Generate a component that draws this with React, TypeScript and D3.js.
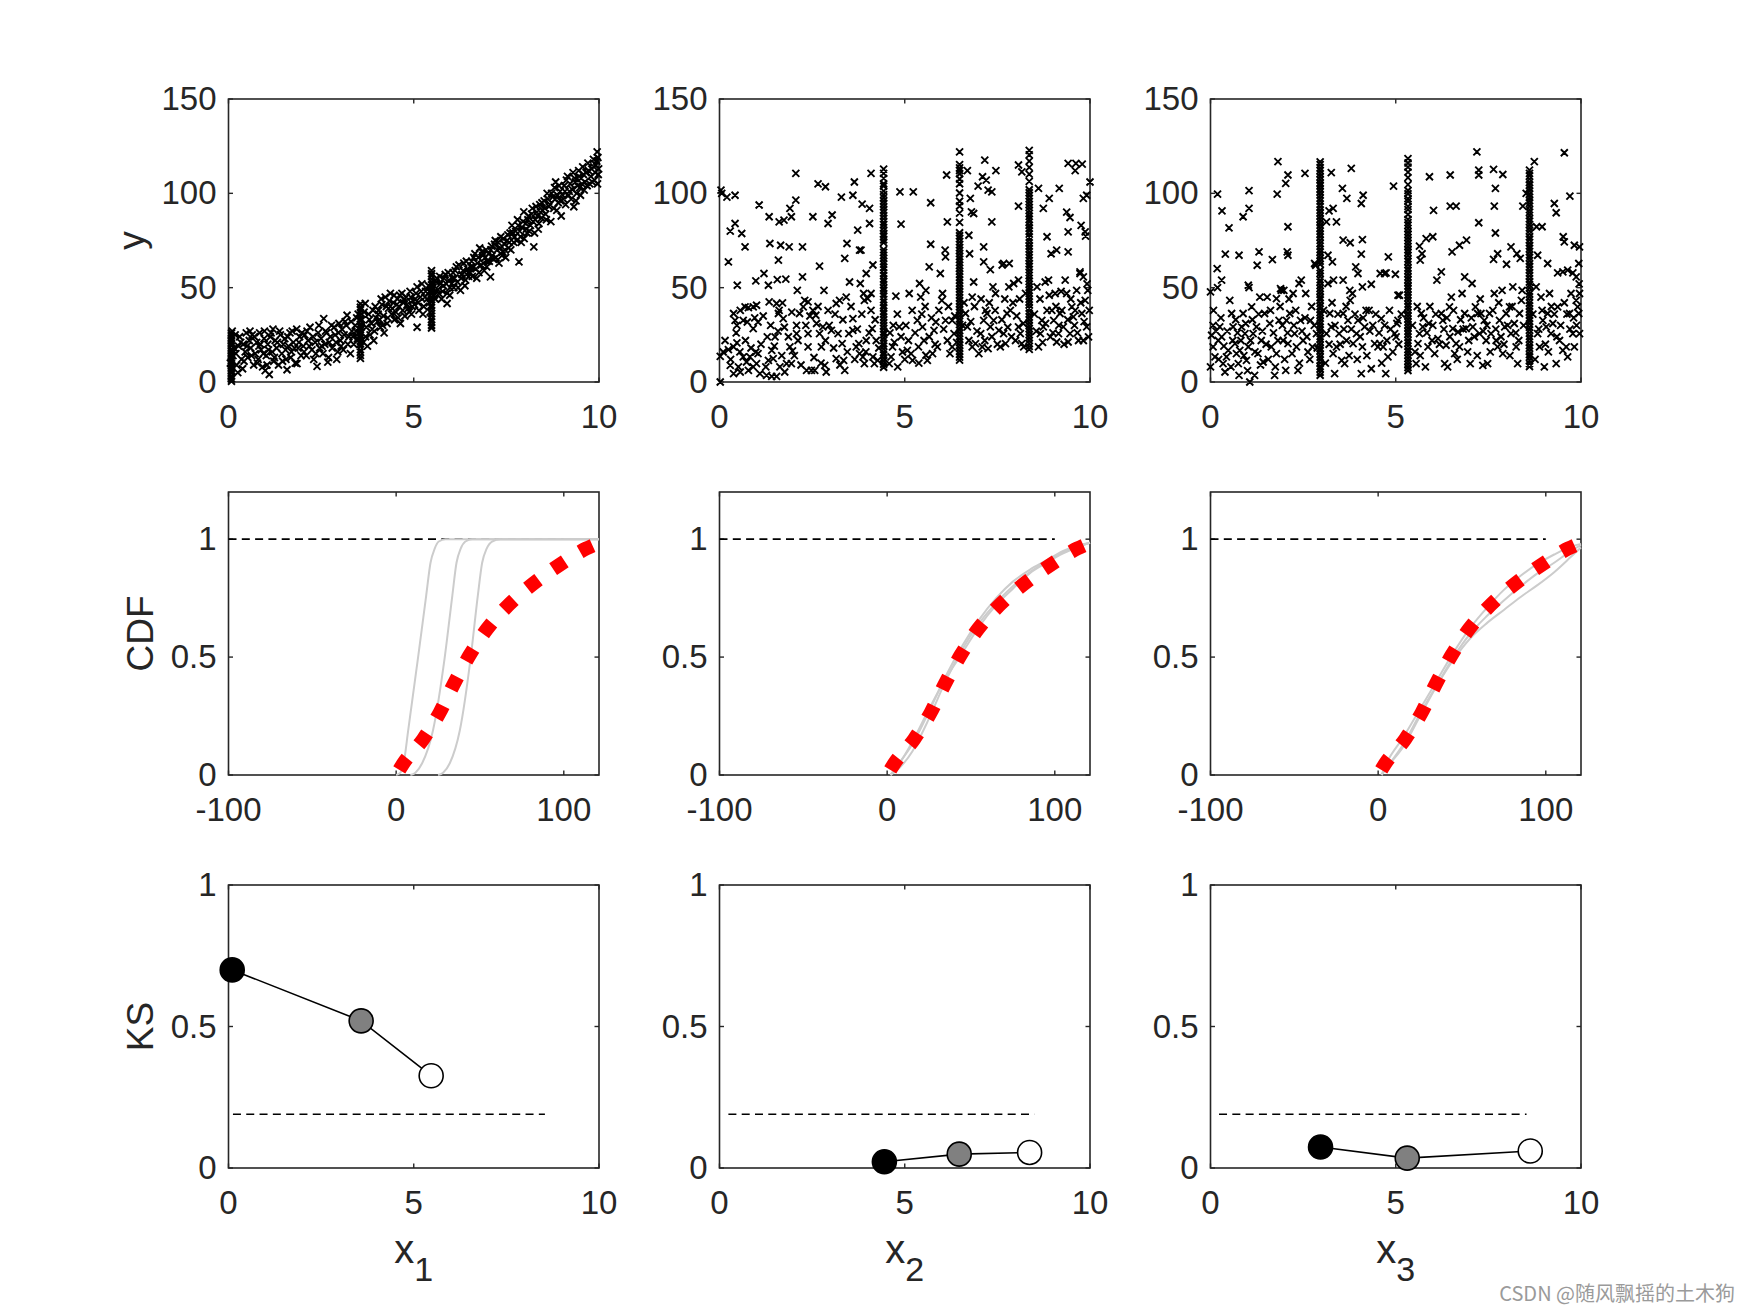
import React from "react";
import * as d3 from "d3";

// ---------------- data ----------------
const xTicks10 = [0, 5, 10];
const scatterYTicks = [0, 50, 100, 150];
const cdfXTicks = [-100, 0, 100];
const unitYTicks = [0, 0.5, 1];
const yLabelTexts = ["y", "CDF", "KS"];
const xSubscripts = ["1", "2", "3"];

// scatter of y against x1
const scatter1: number[][] = [
  [0.08,22],[0.12,14],[0.18,25],[0.22,9],[0.27,19],[0.3,24],[0.35,12],[0.4,20],[0.45,16],[0.48,26],[0.15,18],[0.38,7],
  [0.52,13],[0.56,22],[0.6,18],[0.64,25],[0.68,9],[0.72,15],[0.76,21],[0.8,12],[0.84,26],[0.88,17],[0.92,8],[0.96,23],[0.99,6],[0.58,27],[0.82,19],
  [1.02,14],[1.06,20],[1.1,4],[1.13,24],[1.18,16],[1.22,11],[1.26,22],[1.3,18],[1.35,9],[1.4,25],[1.44,15],[1.48,20],[1.2,28],
  [1.52,23],[1.55,12],[1.58,6.5],[1.62,19],[1.66,26],[1.7,16],[1.75,21],[1.8,10],[1.84,28],[1.88,18],[1.92,24],[1.96,14],[1.85,9.7],
  [2.02,19],[2.06,25],[2.1,14],[2.15,22],[2.2,29],[2.25,17],[2.3,12],[2.34,21],[2.39,8.3],[2.42,26],[2.46,18],[2.5,23],
  [2.55,15],[2.57,33.6],[2.6,20],[2.65,26],[2.7,13],[2.75,24],[2.8,18],[2.85,29],[2.9,21],[2.95,16],[2.98,31],[2.68,10.5],
  [3.02,22],[3.06,28],[3.1,17],[3.15,32],[3.2,35.4],[3.25,24],[3.29,15],[3.33,27],[3.38,20],[3.42,30],[3.46,34],[3.48,23],
  [3.52,26],[3.6,33],[3.64,21],[3.69,41.6],[3.72,29],[3.78,36],[3.82,25],[3.86,31],[3.9,38],[3.94,27],[3.98,34],[3.75,19],
  [4.02,32],[4.05,38],[4.1,29],[4.14,41],[4.18,35],[4.23,45],[4.28,31],[4.32,39],[4.37,47],[4.4,36],[4.45,42],[4.48,33],[4.2,26],
  [4.52,37],[4.56,44],[4.6,40],[4.64,31],[4.68,47],[4.72,42],[4.76,35],[4.8,45],[4.85,39],[4.9,48],[4.94,36],[4.98,43],
  [5.02,41],[5.06,47],[5.09,29],[5.09,50.4],[5.14,38],[5.18,45],[5.22,52],[5.27,40],[5.32,48],[5.36,44],[5.4,51],[5.44,37],
  [5.55,46],[5.6,53],[5.65,49],[5.7,56],[5.75,44],[5.8,51],[5.85,57],[5.9,41.6],[5.9,47],[5.95,54],[5.98,50],
  [6.02,52],[6.06,58],[6.1,55],[6.15,61],[6.2,50],[6.26,48.6],[6.3,57],[6.35,63],[6.4,54],[6.45,60],[6.48,56],
  [6.52,58],[6.56,64],[6.6,61],[6.65,68],[6.7,55],[6.74,66],[6.78,71],[6.82,62],[6.86,67],[6.9,59],[6.95,70],[6.98,64],
  [7.02,68],[7.07,55.7],[7.1,72],[7.15,65],[7.2,75],[7.25,70],[7.3,63],[7.35,77],[7.4,69],[7.45,73],[7.48,66],
  [7.52,75],[7.56,71],[7.6,79],[7.65,83],[7.7,74],[7.75,80],[7.8,86],[7.84,63.7],[7.88,77],[7.92,82],[7.97,90.2],[7.98,76],
  [8.02,84],[8.06,79],[8.1,88],[8.15,83],[8.2,92],[8.24,71.6],[8.28,86],[8.32,90],[8.36,81],[8.4,94],[8.45,87],[8.48,91],
  [8.52,96],[8.56,89],[8.6,100],[8.65,93],[8.7,85],[8.75,98],[8.8,103],[8.83,106],[8.86,91],[8.9,95],[8.95,101],[8.98,88],
  [9.02,99],[9.06,104],[9.1,94],[9.15,109],[9.2,101],[9.25,97],[9.3,111],[9.32,92.9],[9.36,106],[9.4,100],[9.45,112],[9.48,103],
  [9.52,108],[9.56,114],[9.6,101.7],[9.65,111],[9.7,116],[9.75,105],[9.8,113],[9.85,118],[9.88,107],[9.92,115],[9.95,122],[9.98,110],[9.97,119]
];
const scatter1b: number[][] = [
  [0.05,10],[0.1,27],[0.2,15],[0.25,5],[0.33,21],[0.42,11],[0.5,19],[0.62,14],[0.7,24],[0.78,10],[0.86,20],[0.94,15],[0.97,27],
  [1.04,9],[1.08,17],[1.15,26],[1.24,13],[1.32,21],[1.38,27],[1.46,11],[1.54,17],[1.6,24],[1.68,13],[1.72,27],[1.78,18],[1.9,21],[1.98,26],
  [2.04,16],[2.12,27],[2.18,19],[2.28,24],[2.36,15],[2.44,30],[2.52,19],[2.62,27],[2.72,21],[2.78,30],[2.88,25],[2.92,12],[2.97,26],
  [3.04,19],[3.12,25],[3.18,30],[3.22,20],[3.31,32],[3.36,24],[3.44,27],[3.5,36],[3.58,29],[3.66,37],[3.7,24],[3.8,33],[3.88,28],[3.96,40],[3.92,22],
  [4.04,36],[4.08,33],[4.12,44],[4.16,30],[4.26,40],[4.3,34],[4.34,43],[4.42,39],[4.47,46],[4.54,41],[4.58,34],[4.62,46],[4.7,38],[4.74,44],[4.82,41],[4.88,37],[4.92,45],[4.96,40],
  [5.04,44],[5.12,42],[5.2,48],[5.25,36],[5.3,45],[5.38,47],[5.42,42],[5.52,50],[5.58,44],[5.62,55],[5.68,47],[5.72,52],[5.78,48],[5.82,55],[5.88,52],[5.93,58],[5.97,46],
  [6.04,55],[6.08,50],[6.12,59],[6.18,53],[6.22,62],[6.28,55],[6.33,59],[6.38,51],[6.42,64],[6.47,58],[6.54,61],[6.58,56],[6.62,66],[6.68,60],[6.72,63],[6.76,58],[6.84,69],[6.88,63],[6.93,66],[6.97,61],
  [7.04,64],[7.08,70],[7.12,67],[7.18,73],[7.22,66],[7.28,74],[7.33,71],[7.38,67],[7.42,76],[7.46,70],[7.54,78],[7.58,74],[7.62,70],[7.68,79],[7.72,77],[7.78,75],[7.82,83],[7.86,80],[7.9,74],[7.95,85],
  [8.04,81],[8.08,86],[8.12,80],[8.18,89],[8.22,85],[8.26,79],[8.3,93],[8.34,88],[8.38,84],[8.42,90],[8.46,95],[8.54,92],[8.58,86],[8.62,97],[8.68,94],[8.72,100],[8.78,92],[8.82,97],[8.88,99],[8.92,104],[8.96,96],
  [9.04,97],[9.08,101],[9.12,107],[9.18,99],[9.22,105],[9.28,102],[9.34,108],[9.38,96],[9.42,104],[9.46,109],[9.5,99],[9.54,105],[9.58,110],[9.62,106],[9.68,104],[9.72,112],[9.78,109],[9.82,106],[9.86,114],[9.9,111],[9.94,117],[9.99,113],[9.96,105]
];
const stripeX1 = [0.08, 3.56, 5.48];
const stripeY1a = [0.4,1.8,3.1,4.6,5.9,7.3,8.5,9.8,11.2,12.6,13.9,15.1,16.5,17.7,19.2,20.4,21.8,23.1,24.5,25.9];
const stripeY1b = [12.5,14.1,15.8,17.2,18.9,20.3,21.6,23.4,24.8,26.1,27.7,29.3,30.5,32.2,33.6,35.1,36.7,38.2,39.6,41.4];
const stripeY1c = [28.6,30.1,31.8,33.2,34.9,36.3,37.8,39.4,40.7,42.5,43.8,45.4,46.9,48.3,49.8,51.5,52.9,54.4,56.1,57.4,59];

// scatter of y against x2
const scatter2: number[][] = [
  [0.04,101.7],[0.06,100],[0.2,98],[0.42,99],[0.29,80],[0.42,84],[0.6,78.7],[0.24,63.7],[0.69,71.6],[0.48,51.3],[1.07,93.8],[0.98,53.6],[1.2,57.5],[1.34,87.6],[1.36,73.4],[1.32,51.3],[1.56,54.3],[1.61,84.9],[1.74,85.8],[1.59,64.6],[1.65,72.5],[1.79,54.5],[1.88,71.6],[1.94,87.6],[1.9,92],[2.06,96.4],[2.06,110.6],[2.1,48.6],[2.24,71.6],[2.24,55.7],[2.52,87.6],[2.66,105],[2.7,61.4],[2.82,48.6],[2.86,103.5],[2.93,84],[3.04,88.5],[3.29,98],[3.38,65.5],[3.44,73.4],[3.51,53],[3.6,99],[3.64,106],[3.73,80.5],[3.78,69.9],[3.82,69.9],[3.8,52.2],[3.85,94.3],[4.05,92],[4.09,110.6],[3.96,57.5],[4.14,62],[4.05,84],[4.87,100.8],[4.9,83.7],[5.23,100.8],[5.4,52.2],[5.7,95],[5.7,73],[5.66,61],[5.96,57.5],[6.09,69.9],[6.13,109.7],[6.15,84.9],[6.1,66.3],[6.69,112],[6.73,77.8],[6.77,97.3],[6.8,90.2],[6.86,89.3],[6.75,68],[6.86,53],[6.98,103.8],[7.1,108.8],[7.16,117.6],[7.2,107],[7.25,101.7],[7.35,100.8],[7.13,71.6],[7.13,63.7],[7.31,59.6],[7.35,84.9],[7.38,50.4],[7.46,112],[7.63,62],[7.67,62.8],[7.82,62.8],[8.07,115],[8.07,93.2],[8.16,111.4],[8.07,54],[8.61,102.6],[8.74,92],[8.9,97.3],[8.84,77],[8.95,68],[9.1,69.9],[9.17,102.6],[9.37,90],[9.41,79.6],[9.46,87.2],[9.41,115.9],[9.6,112],[9.62,115.9],[9.79,115.5],[9.41,69],[9.76,83],[9.88,77.3],[9.82,97.3],[9.91,99],[10,106],[9.87,79.6],[9.73,58.4],[9.82,55.7],
  [0.02,0],[0.02,13.6],[0.1,15.9],[0.24,17.2],[0.38,18.6],[0.47,20.7],[0.29,8.8],[0.38,4.4],[0.51,8],[0.56,5.3],[0.38,36.3],[0.42,32.7],[0.47,30],[0.56,38],[0.69,39.8],[0.78,39.4],[0.91,39.8],[1,40.7],[0.64,32.7],[0.75,31.8],[0.91,28.3],[1.04,31.8],[0.64,13.3],[0.73,10.6],[0.82,13.3],[0.91,8],[1,9.7],[1.09,4.4],[0.78,6.2],[0.98,15.9],[1.04,15],[1.27,3.5],[1.41,3],[1.54,3],[1.32,11.5],[1.45,12.4],[1.41,16.8],[1.29,23.9],[1.5,23.9],[1.34,42.5],[1.54,41.6],[1.61,38],[1.7,41.9],[1.72,33.6],[1.59,36.3],[1.63,8],[1.76,5.3],[1.81,9.7],[1.9,18.6],[1.97,16.5],[1.94,9.7],[2.08,25.6],[2.08,30],[2.16,36.3],[2.3,43.3],[2.39,42.5],[2.26,39.8],[2.35,6.2],[2.48,6.2],[2.39,25.6],[2.39,18.6],[2.57,6.2],[2.6,35.4],[2.62,31],[2.52,38],[2.7,25.6],[2.75,18.6],[2.79,29.2],[2.84,8.8],[2.88,5.3],[2.93,38],[3.02,27.4],[3.15,12.4],[3.2,25.6],[3.15,41.6],[3.24,43.3],[3.31,20.3],[3.35,11.5],[3.38,6.2],[3.42,45],[3.49,25.6],[3.6,27.4],[3.6,33.6],[3.69,18.6],[3.76,20.3],[3.78,15],[3.87,13.3],[3.91,9.7],[3.96,22],[3.89,46.9],[3.91,43.3],[4,44.2],[4.09,38],[4.09,46.9],[4.12,28.3],[4.14,13.3],[4.18,9.7],[4.27,11.5],[4.23,22],
  [4.58,9.7],[4.63,13.3],[4.67,18.6],[4.69,30],[4.76,45.5],[4.81,8],[4.85,29.2],[4.94,15.9],[5.03,30],[5.07,16.8],[5.12,46.9],[5.17,15],[5.21,11.5],[5.34,32.7],[5.37,18.6],[5.43,45],[5.48,29.2],[5.52,22],[5.57,48.6],[5.57,14.2],[5.61,11.5],[5.75,15],[5.79,27.4],[5.84,31.8],[5.88,18.6],[6,43.3],[6.02,46.9],[6.1,32.7],[6.15,22],[6.28,18.6],[6.33,25.6],[6.28,32.7],[6.64,36.3],[6.69,29.2],[6.73,22],[6.82,18.6],[6.82,45],[6.91,20.3],[7,15],[7.05,25.6],[7.09,18.6],[7.13,32.7],[7.18,38],[7.22,36.3],[7.25,17.7],[7.31,29.2],[7.4,32.7],[7.45,46.9],[7.54,27.4],[7.58,18.6],[7.67,25.6],[7.72,20.3],[7.76,36.3],[7.85,38],[7.81,50.4],[7.94,52.2],[7.99,22],[8.07,29.2],[8.12,25.6],[8.16,20.3],[8.21,18.6],[8.57,50.4],[8.61,18.6],[8.66,25.6],[8.7,32.7],[8.74,29.2],[8.79,53],[8.84,38],[8.88,54],[8.93,23.9],[8.97,38],[9.02,32.7],[9.06,46.9],[9.1,21.2],[9.15,25.6],[9.19,36.3],[9.24,38],[9.28,29.2],[9.33,54],[9.37,46.9],[9.41,21.2],[9.46,25.6],[9.51,39.8],[9.55,34.5],[9.6,38],[9.64,48.6],[9.69,22],[9.73,57.5],[9.78,36.3],[9.82,55.7],[9.87,43.3],[9.91,29.2],[9.96,23.9],[9.94,48.6],[9.82,22]
];
const scatter2b: number[][] = [
  [0.15,22],[0.3,12],[0.45,26],[0.55,16],[0.7,22],[0.85,18],[0.95,34],[1.12,20],[1.18,35],[1.25,8],[1.38,30],[1.48,19],[1.58,27],[1.68,14],[1.75,29],[1.86,24],[1.95,37],[2.02,14],[2.12,22],[2.2,9],[2.33,30],[2.44,35],[2.55,13],[2.66,40],[2.74,10],[2.86,22],[2.96,30],[3.08,18],[3.12,36],[3.25,9],[3.33,33],[3.45,16],[3.55,40],[3.65,12],[3.72,28],[3.84,36],[3.95,16],[4.04,26],[4.2,33],[4.3,18],
  [4.6,26],[4.72,21],[4.8,36],[4.9,24],[5,12],[5.1,22],[5.2,38],[5.28,26],[5.38,10],[5.46,36],[5.55,40],[5.66,24],[5.72,34],[5.82,20],[5.92,38],[6.05,28],[6.18,40],[6.22,15],[6.35,35],[6.4,21],[6.56,30],[6.6,42],[6.78,32],[6.88,40],[6.95,27],[7.06,44],[7.16,22],[7.28,42],[7.35,24],[7.44,38],[7.5,20],[7.62,33],[7.7,44],[7.78,29],[7.88,24],[7.92,42],[8.02,35],[8.1,44],[8.2,31],[8.26,47],
  [8.5,36],[8.55,27],[8.65,44],[8.72,21],[8.8,31],[8.9,46],[9,26],[9.08,40],[9.16,30],[9.22,48],[9.3,20],[9.4,33],[9.48,44],[9.58,30],[9.66,26],[9.75,42],[9.84,32],[9.92,52],[9.98,38]
];
const stripeX2 = [4.43, 6.48, 8.36];
const stripeY2a = [7.8,9.4,11.1,12.6,14.3,15.7,17.4,19,20.3,22.1,23.5,25.2,26.6,28.3,29.8,31.4,32.9,34.5,36.1,37.4,39.2,40.6,42.3,43.7,45.4,46.8,48.5,49.9,51.6,53.2,54.5,56.3,57.7,59.4,60.8,62.5,63.9,65.6,67.1,68.7,70.2,73.9,75.4,77.1,78.6,80.3,81.8,83.5,84.9,86.6,88.1,89.8,91.2,92.9,94.5,96,97.7,99.3,101.2,103.8,105.1,107.9,110.6,112.8];
const stripeY2b = [11.6,13.2,14.8,16.3,17.9,19.5,21,22.7,24.2,25.8,27.4,28.9,30.5,32.1,33.6,35.2,36.8,38.3,39.9,41.5,43,44.6,46.2,47.7,49.3,50.9,52.4,54,55.6,57.1,58.7,60.3,61.8,63.4,65,66.5,68.1,69.7,71.2,72.8,74.4,76,77.5,79.1,84.6,89.5,93.3,95.8,100.2,105.1,107.6,110.4,112.1,113.5,115.2,122];
const stripeY2c = [17.3,18.9,20.4,22,23.6,25.1,26.7,28.3,29.8,31.4,33,34.5,36.1,37.7,39.2,40.8,42.4,43.9,45.5,47.1,48.6,50.2,51.8,53.3,54.9,56.5,58,59.6,61.2,62.7,64.3,65.9,67.4,69,70.6,72.1,73.7,75.3,76.8,78.4,80,81.5,83.1,84.7,86.2,87.8,89.4,90.9,92.5,94.1,95.6,97.2,98.8,100.3,101.9,106.3,110.2,113.8,117.1,120.4,122.8];

// scatter of y against x3
const scatter3: number[][] = [
  [0.19,99.6],[0.31,90.7],[0.5,81.7],[0.4,67.8],[0.18,60.1],[0.3,54],[0.19,50],[0,47.8],[0.77,67.2],[0.88,87.6],[1.04,92],[1.04,101.4],[1.02,51.3],[1.04,50],[1.26,61.9],[1.31,69],[1.67,64.9],[1.8,99.6],[1.82,116.8],[2.03,105.3],[2.09,109.7],[2.09,82.3],[2.07,69],[2.09,67.2],[2.55,110.6],[1.89,49.5],[1.98,48.6],[2.39,52.2],[2.45,54],[2.84,61.9],[3.26,111],[3.2,90.7],[3.31,92],[3.13,84.9],[3.4,84.9],[3.17,67.2],[3.29,63.7],[3.32,54],[3.56,102.6],[3.68,97.3],[3.8,113.2],[3.58,75.2],[3.77,73.8],[3.58,54],[3.76,48.6],[3.92,61],[3.98,57.5],[4.07,94.6],[4.12,99],[4.1,75.5],[4.07,67.8],[4.1,50.4],[4.34,51.8],[4.58,57.5],[4.7,57.5],[4.74,57.8],[4.8,66.3],[4.94,103.8],[4.99,57.1],[5.06,46],[5.64,72],[5.66,64.6],[5.71,68],[5.82,76],[5.91,108.8],[6,77],[6.02,91],[6.11,54],[6.23,58.4],[6.47,109.7],[6.47,93.2],[6.52,69],[6.63,93.2],[6.72,72.5],[6.91,75.2],[6.86,55.7],[7.06,52.2],[7.19,122],[7.24,112.3],[7.24,109.7],[7.24,84.4],[7.64,112.7],[7.69,102.6],[7.66,93.2],[7.69,79],[7.64,65],[7.75,68],[7.89,110],[7.99,62.4],[8.11,71.6],[8.27,68],[8.36,65.5],[8.43,93.2],[8.52,100],[8.74,116.8],[8.8,82.3],[8.95,82.3],[8.83,67.2],[9.1,62.8],[9.28,94.6],[9.33,89.7],[9.52,77],[9.55,74.3],[9.55,121.5],[9.7,98.5],[9.82,72.5],[9.96,71.6],[9.94,62.8],[9.37,57.8],[9.51,58.4],[9.64,59.3],[9.78,57.8],[9.87,55.7],
  [0,8],[0.03,24.8],[0.07,30],[0.07,18.6],[0.12,13.3],[0.21,22],[0.25,29.2],[0.3,23.9],[0.34,9.7],[0.39,5.3],[0.43,13.3],[0.48,16.8],[0.52,43.3],[0.57,36.3],[0.61,29.2],[0.66,20.3],[0.7,15],[0.75,9.7],[0.79,16.8],[0.77,3.5],[0.84,29.2],[0.88,36.3],[0.93,25.6],[0.97,11.5],[1.02,18.6],[1.06,0],[1.11,39.8],[1.15,25.6],[1.19,3.5],[1.24,29.2],[1.28,15],[1.33,45],[1.37,22],[1.42,10.6],[1.46,36.3],[1.53,45],[1.6,31],[1.64,18.6],[1.73,3.5],[1.78,15],[1.78,44.2],[1.85,32.7],[1.91,48.6],[1.96,22],[2.03,6.2],[2.05,32.7],[2.09,20.3],[2.14,36.3],[2.23,46.9],[2.27,25.6],[2.32,18.6],[2.36,6.2],[2.43,32.7],[2.5,22],[2.57,46.9],[2.63,15.9],[2.7,32.7],[2.75,18.6],[2.81,62.8],[2.86,25.6],
  [3.13,25.6],[3.17,52.2],[3.22,36.3],[3.26,29.2],[3.31,15],[3.35,4.4],[3.4,18.6],[3.47,25.6],[3.54,11.5],[3.58,36.3],[3.62,9.7],[3.67,22],[3.71,32.7],[3.77,43.3],[3.83,46.9],[3.85,20.3],[3.94,25.6],[3.98,32.7],[4.07,4.4],[4.1,18.6],[4.16,29.2],[4.2,38],[4.28,38],[4.34,7],[4.43,20.3],[4.52,18.6],[4.57,20.3],[4.61,33.6],[4.66,18.6],[4.73,4.4],[4.79,13.3],[4.83,38],[4.97,25.6],[5.01,23.9],[5.03,31],[5.06,32.7],[5.1,46],
  [5.55,9.7],[5.6,20.3],[5.64,25.6],[5.69,36.3],[5.73,29.2],[5.8,8],[5.87,18.6],[5.89,31],[5.98,22],[6.05,15],[6.14,23],[6.23,36.3],[6.27,32.7],[6.32,9.7],[6.36,19.5],[6.4,8],[6.45,39.8],[6.5,45],[6.54,28.3],[6.59,15],[6.63,20.3],[6.68,26.5],[6.72,18.6],[6.79,46.9],[6.86,36.3],[6.9,28.3],[6.97,22],[7.01,9.7],[7.08,29.2],[7.15,39.8],[7.21,36.3],[7.26,25.6],[7.3,36.3],[7.35,8.8],[7.39,32.7],[7.44,22],[7.48,9.7],[7.53,36.3],[7.57,25.6],[7.66,46.9],[7.71,22],[7.75,18.6],[7.8,32.7],[7.87,48.6],[7.89,15],[7.94,29.2],[7.98,36.3],[8.07,39.8],[8.11,25.6],[8.16,50.4],[8.2,31],[8.25,18.6],[8.29,9.7],[8.34,36.3],[8.39,43.3],[8.41,48.6],
  [8.79,50.4],[8.83,25.6],[8.88,18.6],[8.92,45],[8.97,32.7],[9.01,8],[9.06,29.2],[9.1,36.3],[9.15,46.9],[9.19,25.6],[9.24,31],[9.33,9.7],[9.37,39.8],[9.42,22],[9.51,16.8],[9.6,18.6],[9.64,13.3],[9.69,36.3],[9.73,46.9],[9.78,25.6],[9.82,18.6],[9.87,43.3],[9.91,39.8],[9.96,46.9],[9.94,36.3],[9.96,25.6]
];
const scatter3b: number[][] = [
  [0.08,38],[0.15,27],[0.22,12],[0.28,34],[0.36,19],[0.45,27],[0.55,8],[0.6,22],[0.68,33],[0.73,26],[0.82,22],[0.9,14],[0.95,31],[1.0,6],[1.08,22],[1.13,33],[1.2,16],[1.3,36],[1.35,9],[1.4,27],[1.5,20],[1.56,12],[1.62,38],[1.7,26],[1.75,8],[1.82,22],[1.88,40],[1.94,30],[2.0,12],[2.08,26],[2.12,44],[2.2,15],[2.25,30],[2.3,38],[2.4,10],[2.47,27],[2.55,34],[2.6,24],[2.68,12],[2.73,40],[2.8,30],[2.88,18],
  [3.05,38],[3.1,10],[3.2,20],[3.28,42],[3.36,30],[3.44,36],[3.5,20],[3.6,28],[3.66,40],[3.74,14],[3.8,28],[3.9,36],[3.96,12],[4.04,24],[4.12,34],[4.22,14],[4.3,27],[4.38,30],[4.46,36],[4.55,26],[4.62,10],[4.7,30],[4.76,22],[4.86,28],[4.92,16],[5.08,20],[5.15,36],
  [5.45,30],[5.52,16],[5.58,40],[5.66,14],[5.75,34],[5.84,26],[5.92,40],[6.0,30],[6.08,36],[6.18,20],[6.3,28],[6.38,34],[6.46,24],[6.56,38],[6.66,12],[6.75,33],[6.82,28],[6.94,16],[7.04,34],[7.12,24],[7.2,14],[7.28,44],[7.36,27],[7.46,30],[7.55,16],[7.62,38],[7.7,28],[7.78,42],[7.84,24],[7.92,20],[8.02,30],[8.08,14],[8.14,40],[8.24,26],[8.32,22],[8.45,30],
  [8.7,36],[8.76,12],[8.86,28],[8.95,38],[9.04,20],[9.12,16],[9.2,40],[9.28,36],[9.35,24],[9.45,30],[9.55,42],[9.62,36],[9.7,28],[9.8,34],[9.88,30],[9.95,52]
];
const stripeX3 = [2.96, 5.33, 8.61];
const stripeY3a = [3.6,5.2,6.9,8.3,10.1,11.6,13.2,14.7,16.5,17.9,19.6,21.1,22.8,24.2,25.9,27.5,29,30.7,32.1,33.8,35.4,36.9,38.6,40.1,41.7,43.4,44.8,46.5,48.1,49.6,51.2,52.9,54.3,56,57.6,59.1,62.4,64,65.5,67.2,68.8,70.3,72,73.5,75.1,76.8,78.3,80,81.5,83.1,84.8,86.3,88,89.6,91.1,92.8,94.3,96,97.5,99.1,100.8,102.3,104,105.5,107.2,108.7,110.4,112,113.5,115.2,116.7];
const stripeY3b = [6.1,7.7,9.4,11,12.5,14.2,15.8,17.3,19,20.6,22.1,23.8,25.4,26.9,28.6,30.2,31.7,33.4,35,36.5,38.2,39.8,41.3,43,44.6,46.1,47.8,49.4,50.9,52.6,54.2,55.7,57.4,59,60.5,62.2,63.8,65.3,67,68.6,70.1,71.8,73.4,74.9,76.6,78.2,79.7,81.4,83,84.5,86.2,88.8,91.4,93.1,95.7,97.2,99.8,101.5,104.6,108.3,111.2,113.9,116.1,118.4];
const stripeY3c = [8.2,9.8,11.5,13.1,14.6,16.3,17.9,19.4,21.1,22.7,24.2,25.9,27.5,29,30.7,32.3,33.8,35.5,37.1,38.6,40.3,41.9,43.4,45.1,46.7,48.2,49.9,51.5,53,54.7,56.3,57.8,59.5,61.1,62.6,64.3,65.9,67.4,69.1,70.7,72.2,73.9,75.5,77,78.7,80.3,81.8,83.5,85.1,86.6,88.3,89.9,91.4,93.1,94.7,96.2,97.9,99.5,101,102.7,104.3,105.8,107.5,109.1,110.6,112.3];

// unconditional CDF (red dotted)
const cdfRedX = [0, 3.9, 16.1, 26, 34.4, 43.9, 54.3, 66.8, 81.7, 97, 113.3, 121];
const cdfRedF = [0, 0.045, 0.152, 0.265, 0.386, 0.509, 0.62, 0.719, 0.811, 0.889, 0.96, 0.985];
const cdfRefLevel = 1;
const cdfRefX = [-100, 100];

// conditional CDFs (grey), column 1
const gray1aX = [0, 2.5, 4.5, 7.2, 13.1, 17.9, 20.5, 23, 25.4, 29.4, 121];
const gray1bX = [8.5, 11.5, 15.5, 22, 29, 33.5, 36, 38.5, 41.3, 45.3, 121];
const gray1cX = [25, 28, 32, 38, 44.5, 48.7, 51.3, 54, 57.2, 62.2, 121];
const gray1F = [0, 0.01, 0.05, 0.19, 0.5, 0.76, 0.9, 0.96, 0.99, 1, 1];
// conditional CDFs (grey), columns 2 and 3
const grayX = [2, 5, 15, 25, 35, 45, 55, 65, 75, 85, 95, 105, 115, 121];
const gray2aF = [0, 0.03, 0.13, 0.27, 0.42, 0.55, 0.66, 0.75, 0.82, 0.87, 0.91, 0.95, 0.975, 0.985];
const gray2bF = [0, 0.015, 0.1, 0.24, 0.4, 0.535, 0.645, 0.73, 0.8, 0.86, 0.905, 0.945, 0.972, 0.985];
const gray2cF = [0, 0.025, 0.14, 0.28, 0.41, 0.52, 0.63, 0.72, 0.79, 0.855, 0.9, 0.94, 0.97, 0.985];
const gray3aF = [0, 0.03, 0.13, 0.26, 0.38, 0.49, 0.58, 0.645, 0.7, 0.755, 0.805, 0.86, 0.925, 0.965];
const gray3bF = [0, 0.05, 0.16, 0.28, 0.4, 0.52, 0.625, 0.71, 0.785, 0.845, 0.895, 0.935, 0.968, 0.98];
const gray3cF = [0, 0.03, 0.12, 0.25, 0.38, 0.5, 0.6, 0.675, 0.74, 0.8, 0.855, 0.9, 0.95, 0.975];

// KS statistics
const ksX1 = [0.1, 3.58, 5.47];
const ksY1 = [0.70, 0.52, 0.326];
const ksX2 = [4.45, 6.47, 8.37];
const ksY2 = [0.022, 0.049, 0.055];
const ksX3 = [2.97, 5.31, 8.63];
const ksY3 = [0.074, 0.035, 0.06];
const ksFills = ["#000000", "#808080", "#ffffff"];
const ksCritical = 0.19;
const ksCritX1 = [0.12, 8.54];
const ksCritX2 = [0.24, 8.5];
const ksCritX3 = [0.23, 8.53];

const watermark = "CSDN @随风飘摇的土木狗";

// ---------------- layout ----------------
const W = 1750, H = 1313;
const COL_X = [228.5, 719.5, 1210.5];
const ROW_Y = [99, 492, 885];
const PW = 370.5, PH = 283;
const FONT = "'Liberation Sans', Arial, Helvetica, sans-serif";
const AX = "#262626";
const TICK_FS = 33;
const LABEL_FS = 37;
const TL = 4.5;

type Scale = d3.ScaleLinear<number, number>;

function Axes(props: {
  col: number; row: number; xDom: number[]; yDom: number[];
  xTicks: number[]; yTicks: number[];
  children: (xs: Scale, ys: Scale) => React.ReactNode;
}) {
  const x0 = COL_X[props.col], y0 = ROW_Y[props.row];
  const xs = d3.scaleLinear().domain(props.xDom).range([x0, x0 + PW]);
  const ys = d3.scaleLinear().domain(props.yDom).range([y0 + PH, y0]);
  return (
    <g>
      <rect x={x0} y={y0} width={PW} height={PH} fill="#fff" stroke={AX} strokeWidth={1.6} />
      {props.xTicks.map((t) => (
        <g key={"x" + t}>
          <line x1={xs(t)} x2={xs(t)} y1={y0 + PH} y2={y0 + PH - TL} stroke={AX} strokeWidth={1.4} />
          <line x1={xs(t)} x2={xs(t)} y1={y0} y2={y0 + TL} stroke={AX} strokeWidth={1.4} />
          <text x={xs(t)} y={y0 + PH + 46} textAnchor="middle" fontSize={TICK_FS} fill={AX} fontFamily={FONT}>{String(t)}</text>
        </g>
      ))}
      {props.yTicks.map((t) => (
        <g key={"y" + t}>
          <line x1={x0} x2={x0 + TL} y1={ys(t)} y2={ys(t)} stroke={AX} strokeWidth={1.4} />
          <line x1={x0 + PW} x2={x0 + PW - TL} y1={ys(t)} y2={ys(t)} stroke={AX} strokeWidth={1.4} />
          <text x={x0 - 12} y={ys(t) + 11} textAnchor="end" fontSize={TICK_FS} fill={AX} fontFamily={FONT}>{String(t)}</text>
        </g>
      ))}
      {props.children(xs, ys)}
    </g>
  );
}

function crossPath(pts: number[][], xs: Scale, ys: Scale, a: number) {
  return pts
    .map(([x, y]) => {
      const px = xs(x), py = ys(y);
      return `M${px - a},${py - a}L${px + a},${py + a}M${px - a},${py + a}L${px + a},${py - a}`;
    })
    .join("");
}

function stripePts(x: number, ys: number[]) {
  return ys.map((y) => [x, y]);
}

const scatterSets = [
  scatter1.concat(scatter1b, stripePts(stripeX1[0], stripeY1a), stripePts(stripeX1[1], stripeY1b), stripePts(stripeX1[2], stripeY1c)),
  scatter2.concat(scatter2b, stripePts(stripeX2[0], stripeY2a), stripePts(stripeX2[1], stripeY2b), stripePts(stripeX2[2], stripeY2c)),
  scatter3.concat(scatter3b, stripePts(stripeX3[0], stripeY3a), stripePts(stripeX3[1], stripeY3b), stripePts(stripeX3[2], stripeY3c)),
];

const graySets: { x: number[]; f: number[] }[][] = [
  [{ x: gray1aX, f: gray1F }, { x: gray1bX, f: gray1F }, { x: gray1cX, f: gray1F }],
  [{ x: grayX, f: gray2aF }, { x: grayX, f: gray2bF }, { x: grayX, f: gray2cF }],
  [{ x: grayX, f: gray3aF }, { x: grayX, f: gray3bF }, { x: grayX, f: gray3cF }],
];

const ksSets = [
  { x: ksX1, y: ksY1, crit: ksCritX1 },
  { x: ksX2, y: ksY2, crit: ksCritX2 },
  { x: ksX3, y: ksY3, crit: ksCritX3 },
];

function curvePath(xv: number[], fv: number[], xs: Scale, ys: Scale) {
  const line = d3
    .line<number>()
    .x((_, i) => xs(xv[i]))
    .y((d) => ys(d))
    .curve(d3.curveMonotoneX);
  return line(fv) || "";
}

export default function App() {
  const ylabelX = [144, 153, 153];
  return (
    <svg width={W} height={H} style={{ position: "absolute", left: 0, top: 0, background: "#fff" }}>
      <rect x={0} y={0} width={W} height={H} fill="#fff" />
      {[0, 1, 2].map((c) => (
        <g key={"col" + c}>
          {/* row 1: scatter */}
          <Axes col={c} row={0} xDom={[0, 10]} yDom={[0, 150]} xTicks={xTicks10} yTicks={scatterYTicks}>
            {(xs, ys) => (
              <path d={crossPath(scatterSets[c], xs, ys, 3.5)} stroke="#000" strokeWidth={1.9} fill="none" />
            )}
          </Axes>
          {/* row 2: CDFs */}
          <Axes col={c} row={1} xDom={[-100, 121]} yDom={[0, 1.2]} xTicks={cdfXTicks} yTicks={unitYTicks}>
            {(xs, ys) => (
              <g>
                <line x1={xs(cdfRefX[0])} x2={xs(cdfRefX[1])} y1={ys(cdfRefLevel)} y2={ys(cdfRefLevel)}
                  stroke="#000" strokeWidth={1.6} strokeDasharray="8 5.3" />
                {graySets[c].map((g, i) => (
                  <path key={i} d={curvePath(g.x, g.f, xs, ys)} stroke="#cccccc" strokeWidth={2} fill="none" />
                ))}
                <path d={curvePath(cdfRedX, cdfRedF, xs, ys)} stroke="#ff0000" strokeWidth={14} fill="none"
                  strokeDasharray="14 18" strokeDashoffset={-6} />
              </g>
            )}
          </Axes>
          {/* row 3: KS */}
          <Axes col={c} row={2} xDom={[0, 10]} yDom={[0, 1]} xTicks={xTicks10} yTicks={unitYTicks}>
            {(xs, ys) => {
              const k = ksSets[c];
              const pts = k.x.map((x, i) => [xs(x), ys(k.y[i])] as [number, number]);
              return (
                <g>
                  <line x1={xs(k.crit[0])} x2={xs(k.crit[1])} y1={ys(ksCritical)} y2={ys(ksCritical)}
                    stroke="#000" strokeWidth={1.6} strokeDasharray="8 5.3" />
                  <path d={d3.line()(pts) || ""} stroke="#000" strokeWidth={1.6} fill="none" />
                  {pts.map((p, i) => (
                    <circle key={i} cx={p[0]} cy={p[1]} r={12} fill={ksFills[i]} stroke="#000" strokeWidth={1.6} />
                  ))}
                </g>
              );
            }}
          </Axes>
          <text x={COL_X[c] + PW / 2} y={1263} textAnchor="middle" fontSize={40} fill={AX} fontFamily={FONT}>
            x<tspan fontSize={34} dy={18}>{xSubscripts[c]}</tspan>
          </text>
        </g>
      ))}
      {yLabelTexts.map((t, r) => (
        <text key={t} transform={`translate(${ylabelX[r]},${ROW_Y[r] + PH / 2}) rotate(-90)`} textAnchor="middle"
          fontSize={LABEL_FS} fill={AX} fontFamily={FONT}>{t}</text>
      ))}
      <text x={1735} y={1301} textAnchor="end" fontSize={20} fill="#9a9a9a"
        fontFamily="'Noto Sans CJK SC', 'Liberation Sans', sans-serif">{watermark}</text>
    </svg>
  );
}
